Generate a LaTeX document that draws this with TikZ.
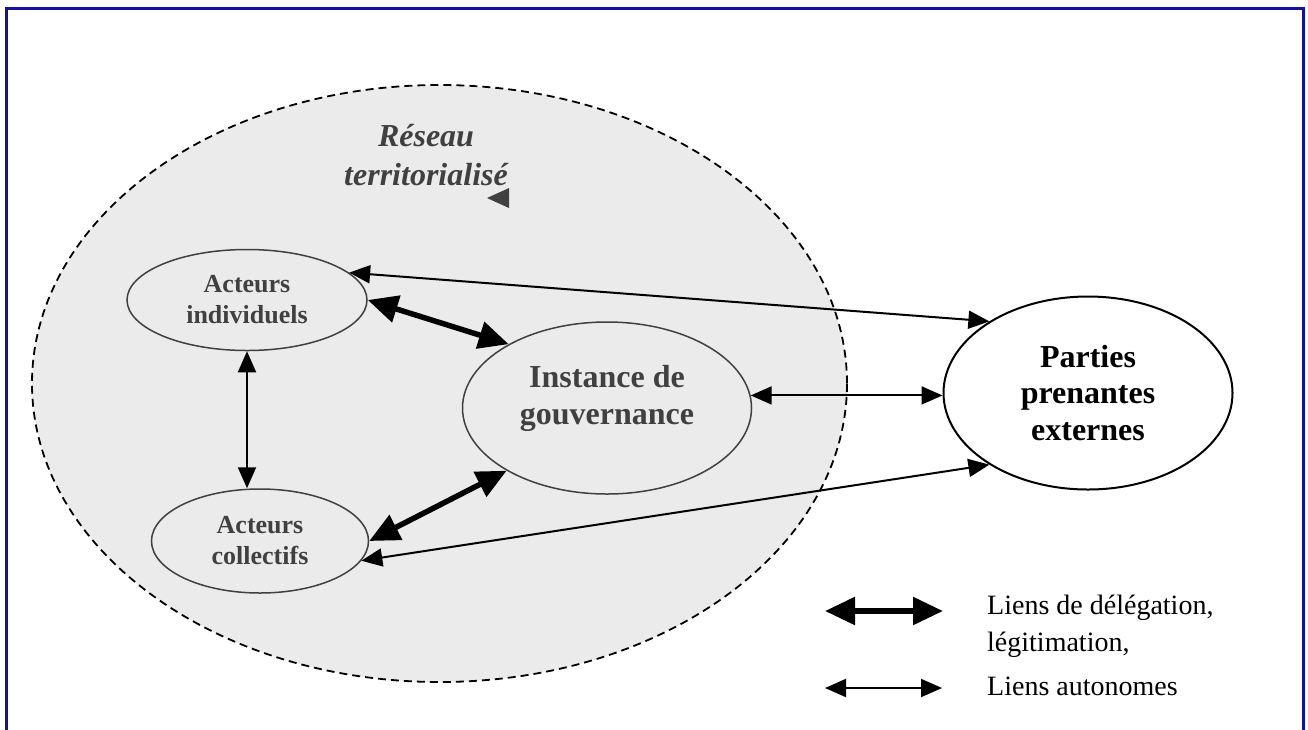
\documentclass[tikz,border=0pt]{standalone}
\usepackage{fontspec}
\setmainfont{Liberation Serif}
\usepackage{tikz}
\usetikzlibrary{shapes.geometric,arrows.meta,positioning}
\definecolor{zone}{HTML}{EBEBEB}
\definecolor{gristxt}{HTML}{404040}
\definecolor{cadre}{HTML}{12129A}

\begin{document}
\begin{tikzpicture}[x=1pt, y=-1pt,
    acteur/.style={ellipse, draw=gristxt, line width=1.5pt, fill=zone, inner sep=0pt,
        align=center, text=gristxt, font=\fontsize{26}{31}\selectfont\bfseries},
    externe/.style={ellipse, draw, line width=2pt, fill=white, inner sep=0pt,
        align=center, font=\fontsize{32}{36.7}\selectfont\bfseries},
    fin/.style={{Triangle[length=21pt,width=18pt]}-{Triangle[length=21pt,width=18pt]}, line width=2pt},
    fort/.style={{Triangle[length=30pt,width=27pt]}-{Triangle[length=30pt,width=27pt]}, line width=5.5pt},
    legende/.style={inner sep=0pt, align=left, font=\fontsize{28}{37}\selectfont}]

    \useasboundingbox (0,0) rectangle (1308,729);
    \draw[cadre, line width=3pt] (6,745) rectangle (1303,8);

    % le reseau
    \node[ellipse, draw, dashed, dash pattern=on 8pt off 5pt, line width=1.8pt, fill=zone,
        minimum width=815pt, minimum height=597pt] (reseau) at (439.5,383.5) {};
    \node[inner sep=0pt, align=center, text=gristxt,
        font=\fontsize{32}{39}\selectfont\bfseries\itshape] (restxt) at (426,155) {Réseau\\territorialisé};
    \fill[gristxt] (487,198) -- (509,188) -- (509,208) -- cycle;

    \node[acteur, minimum width=240pt, minimum height=101pt] (indiv) at (247,300) {Acteurs\\individuels};
    \node[acteur, minimum width=217pt, minimum height=104pt] (coll) at (260,541) {Acteurs\\collectifs};
    \node[acteur, minimum width=289pt, minimum height=172pt] (inst) at (607,408) {};
    \node[inner sep=0pt, align=center, text=gristxt,
        font=\fontsize{32}{37}\selectfont\bfseries] (insttxt) at (607,398) {Instance de\\gouvernance};
    \node[externe, minimum width=289pt, minimum height=193pt] (pp) at (1088,393) {Parties\\prenantes\\externes};

    \draw[fin] (indiv.15) -- (pp.144);
    \draw[fort] (indiv.east) -- (inst.147);
    \draw[fin] (indiv.south) -- (indiv.south |- coll.north);
    \draw[fort] (coll.east) -- (inst.212);
    \draw[fin] (coll.-11) -- (pp.216);
    \draw[fin] (inst.5) -- (inst.5 -| pp.west);

    % legende
    \coordinate (lga) at (825,611);
    \coordinate (lgb) at (943,611);
    \coordinate (lgc) at (825,688);
    \coordinate (lgd) at (942,688);
    \draw[fort] (lga) -- (lgb);
    \draw[fin] (lgc) -- (lgd);
    \node[legende, anchor=base west] (leg1) at (987,651) {Liens de délégation,\\légitimation,};
    \node[legende, anchor=base west] (leg2) at (987,695) {Liens autonomes};

\end{tikzpicture}
\end{document}
